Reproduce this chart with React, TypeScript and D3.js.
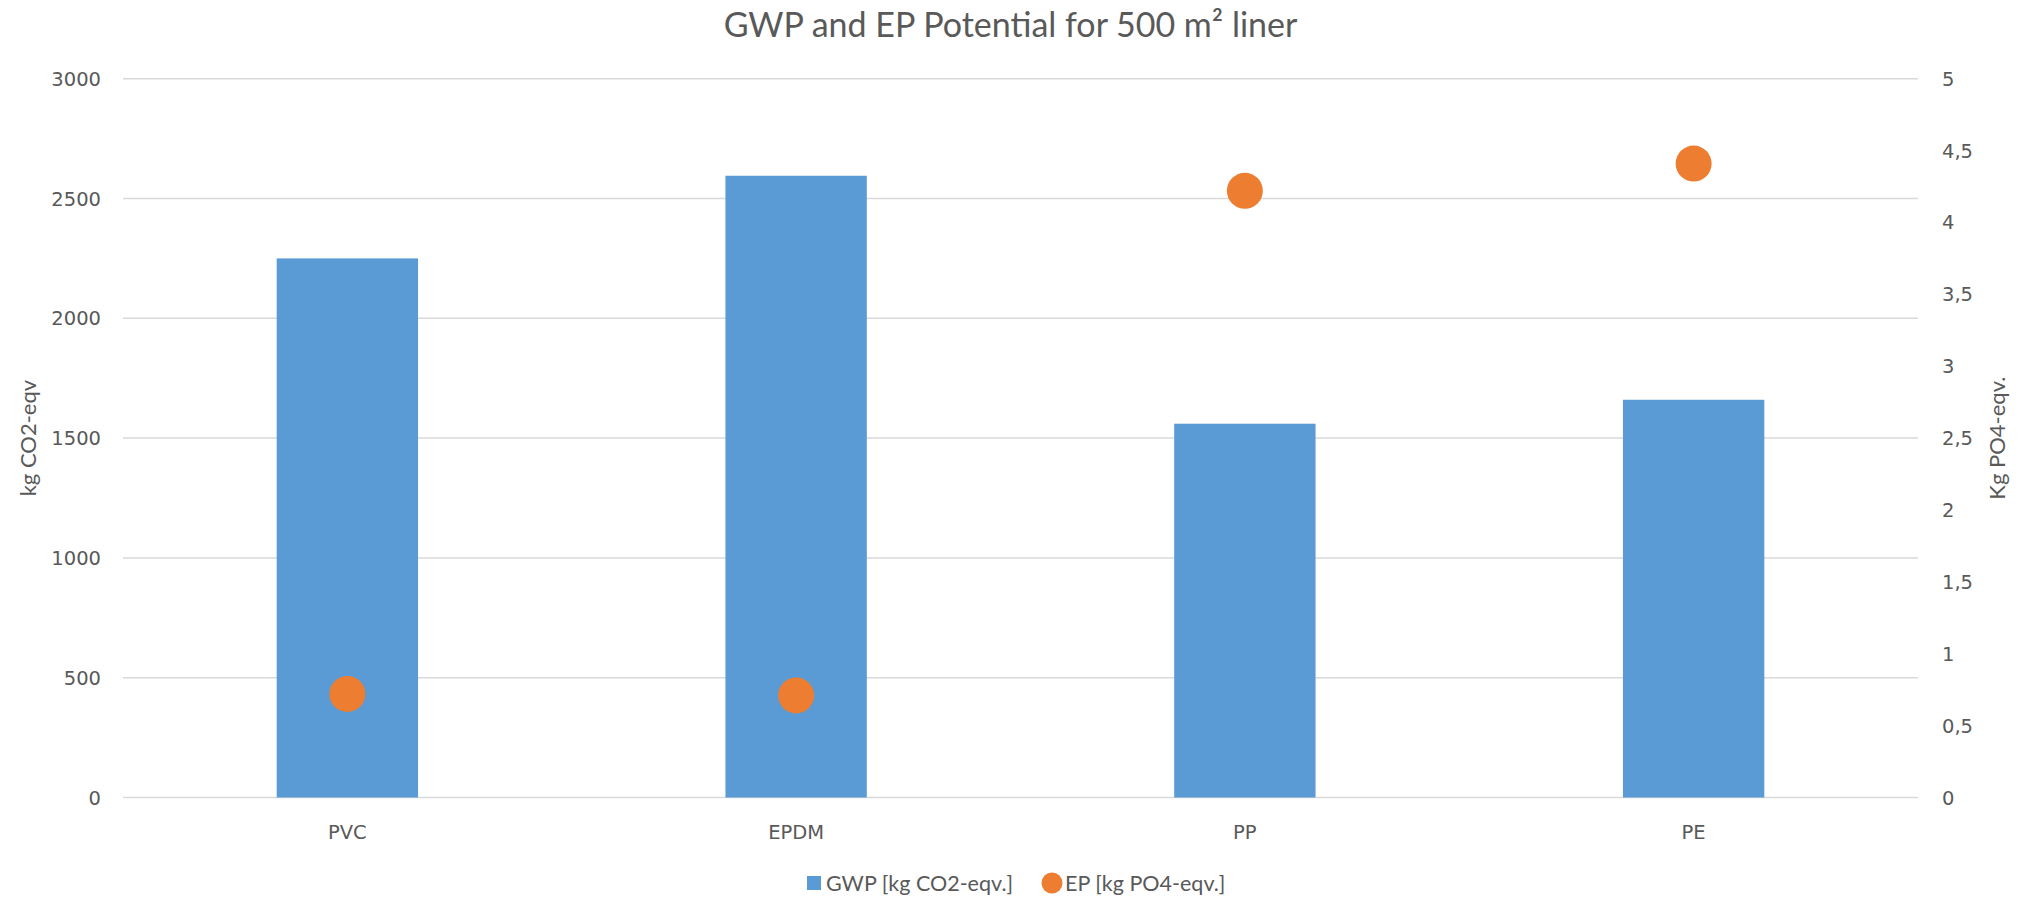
import React from "react";
import * as d3 from "d3";

// Liner materials and their impact values
const categories: string[] = ["PVC", "EPDM", "PP", "PE"];
const gwpValues: number[] = [2250, 2595, 1560, 1660];
const epValues: number[] = [0.72, 0.71, 4.22, 4.41];
const leftTicks: number[] = [0, 500, 1000, 1500, 2000, 2500, 3000];
const rightTicks: number[] = [0, 0.5, 1, 1.5, 2, 2.5, 3, 3.5, 4, 4.5, 5];

const W = 2023;
const H = 898;
const plot = { left: 123, right: 1918, top: 78.7, bottom: 797.5 };

const BAR = "#5B9BD5";
const DOT = "#ED7D31";
const GRID = "#D9D9D9";
const TEXT = "#595959";
const NARROW = "Lato, 'Liberation Sans Narrow', sans-serif";
const WIDE = "'DejaVu Sans', Verdana, sans-serif";

export default function App() {
  const x = d3
    .scaleBand<string>()
    .domain(categories)
    .range([plot.left, plot.right])
    .paddingInner(0.685)
    .paddingOuter(0.3425);
  const xc = d3.scaleBand<string>().domain(categories).range([plot.left, plot.right]);
  const yL = d3.scaleLinear().domain([0, 3000]).range([plot.bottom, plot.top]);
  const yR = d3.scaleLinear().domain([0, 5]).range([plot.bottom, plot.top]);
  const fmtR = (v: number) => String(v).replace(".", ",");
  const midY = (plot.top + plot.bottom) / 2;

  return (
    <svg
      width={W}
      height={H}
      style={{ position: "absolute", left: 0, top: 0, display: "block", background: "#fff" }}
    >
      <text
        x={W / 2 - 1}
        y={37}
        textAnchor="middle"
        fontFamily={NARROW}
        fontSize={34}
        fill={TEXT}
      >
        GWP and EP Potential for 500 m² liner
      </text>

      {leftTicks.map((t) => (
        <g key={"g" + t}>
          <line x1={plot.left} x2={plot.right} y1={yL(t)} y2={yL(t)} stroke={GRID} strokeWidth={1.5} />
          <text
            x={101}
            y={yL(t)}
            dy="0.36em"
            textAnchor="end"
            fontFamily={WIDE}
            fontSize={19.5}
            fill={TEXT}
          >
            {t}
          </text>
        </g>
      ))}

      {rightTicks.map((t) => (
        <text
          key={"r" + t}
          x={1942}
          y={yR(t)}
          dy="0.36em"
          textAnchor="start"
          fontFamily={WIDE}
          fontSize={19.5}
          fill={TEXT}
        >
          {fmtR(t)}
        </text>
      ))}

      {categories.map((c, i) => (
        <rect
          key={"b" + c}
          x={x(c)}
          y={yL(gwpValues[i])}
          width={x.bandwidth()}
          height={plot.bottom - yL(gwpValues[i])}
          fill={BAR}
        />
      ))}

      {categories.map((c, i) => (
        <circle
          key={"d" + c}
          cx={(xc(c) as number) + xc.bandwidth() / 2}
          cy={yR(epValues[i])}
          r={18}
          fill={DOT}
        />
      ))}

      {categories.map((c) => (
        <text
          key={"c" + c}
          x={(xc(c) as number) + xc.bandwidth() / 2}
          y={832}
          dy="0.36em"
          textAnchor="middle"
          fontFamily={WIDE}
          fontSize={19.5}
          fill={TEXT}
        >
          {c}
        </text>
      ))}

      <text
        transform={`translate(28,${midY}) rotate(-90)`}
        textAnchor="middle"
        dy="0.36em"
        fontFamily={NARROW}
        fontSize={22}
        fill={TEXT}
      >
        kg CO2-eqv
      </text>
      <text
        transform={`translate(1997,${midY}) rotate(-90)`}
        textAnchor="middle"
        dy="0.36em"
        fontFamily={NARROW}
        fontSize={22}
        fill={TEXT}
      >
        Kg PO4-eqv.
      </text>

      <g>
        <rect x={807} y={876} width={14} height={14} fill={BAR} />
        <text x={826} y={883} dy="0.36em" fontFamily={NARROW} fontSize={21.5} fill={TEXT}>
          GWP [kg CO2-eqv.]
        </text>
        <circle cx={1052} cy={883} r={10.5} fill={DOT} />
        <text x={1065} y={883} dy="0.36em" fontFamily={NARROW} fontSize={21.5} fill={TEXT}>
          EP [kg PO4-eqv.]
        </text>
      </g>
    </svg>
  );
}
